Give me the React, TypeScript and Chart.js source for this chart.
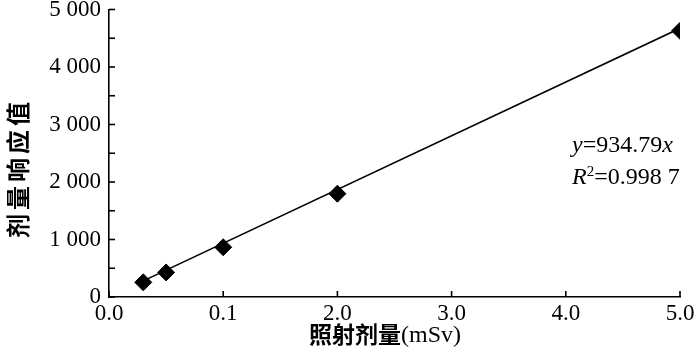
import React, { useEffect, useRef } from "react";
import { Chart, registerables } from "chart.js";

Chart.register(...registerables);

// Measured dose (mSv) and response values
const doseValues = [0.3, 0.5, 1.0, 2.0, 5.0];
const responseValues = [255, 427, 865, 1797, 4629];

// Fitted line y = 934.79x, endpoints
const fitX = [0.3, 5.0];
const fitY = [280, 4674];

// Tick positions and labels as printed on the original figure
const xTickValues = [0, 1, 2, 3, 4, 5];
const xTickLabels = ["0.0", "0.1", "2.0", "3.0", "4.0", "5.0"];
const yTickValues = [0, 500, 1000, 1500, 2000, 2500, 3000, 3500, 4000, 4500, 5000];
const yTickLabels = ["0", "1 000", "2 000", "3 000", "4 000", "5 000"];

const xTitleCjk = "照射剂量";
const xTitleUnit = "(mSv)";
const yTitle = "剂量响应值";
const eqLine1 = ["y", "=934.79", "x"];
const eqLine2 = ["R", "2", "=0.998 7"];

const SERIF = '"Liberation Serif", "Times New Roman", serif';
const SANS_CJK = '"Noto Sans CJK SC", sans-serif';

const innerTicks = {
  id: "innerTicks",
  afterDraw(chart: any) {
    const { ctx, chartArea, scales } = chart;
    const xs = scales.x;
    const ys = scales.y;
    ctx.save();
    ctx.strokeStyle = "#000";
    ctx.lineWidth = 1.6;
    yTickValues.forEach((v) => {
      const py = ys.getPixelForValue(v);
      ctx.beginPath();
      ctx.moveTo(chartArea.left, py);
      ctx.lineTo(chartArea.left + 6, py);
      ctx.stroke();
    });
    xTickValues.forEach((v) => {
      const px = xs.getPixelForValue(v);
      ctx.beginPath();
      ctx.moveTo(px, chartArea.bottom);
      ctx.lineTo(px, chartArea.bottom - 6);
      ctx.stroke();
    });
    ctx.restore();
  },
};

const titles = {
  id: "titles",
  afterDraw(chart: any) {
    const { ctx } = chart;
    ctx.save();
    ctx.fillStyle = "#000";
    ctx.textBaseline = "middle";
    // x title: CJK part in bold sans, unit in serif
    ctx.font = `bold 23px ${SANS_CJK}`;
    const w1 = ctx.measureText(xTitleCjk).width;
    ctx.font = `24px ${SERIF}`;
    const w2 = ctx.measureText(xTitleUnit).width;
    const x0 = 385 - (w1 + w2) / 2;
    ctx.textAlign = "left";
    ctx.font = `bold 23px ${SANS_CJK}`;
    ctx.fillText(xTitleCjk, x0, 334);
    ctx.font = `24px ${SERIF}`;
    ctx.fillText(xTitleUnit, x0 + w1, 336);

    // y title
    ctx.translate(18, 170);
    ctx.rotate(-Math.PI / 2);
    ctx.font = `bold 24px ${SANS_CJK}`;
    const chars = Array.from(yTitle);
    const step = 28;
    const start = -((chars.length - 1) * step) / 2;
    ctx.textAlign = "center";
    chars.forEach((c, i) => ctx.fillText(c, start + i * step, 0));
    ctx.restore();

    // equation annotation
    ctx.save();
    ctx.fillStyle = "#000";
    ctx.textAlign = "left";
    ctx.textBaseline = "alphabetic";
    let x = 572;
    let y = 152;
    ctx.font = `italic 24px ${SERIF}`;
    ctx.fillText(eqLine1[0], x, y);
    x += ctx.measureText(eqLine1[0]).width;
    ctx.font = `24px ${SERIF}`;
    ctx.fillText(eqLine1[1], x, y);
    x += ctx.measureText(eqLine1[1]).width;
    ctx.font = `italic 24px ${SERIF}`;
    ctx.fillText(eqLine1[2], x, y);

    x = 572;
    y = 184;
    ctx.font = `italic 24px ${SERIF}`;
    ctx.fillText(eqLine2[0], x, y);
    x += ctx.measureText(eqLine2[0]).width;
    ctx.font = `15px ${SERIF}`;
    ctx.fillText(eqLine2[1], x, y - 8);
    x += ctx.measureText(eqLine2[1]).width;
    ctx.font = `24px ${SERIF}`;
    ctx.fillText(eqLine2[2], x, y);
    ctx.restore();
  },
};

export default function App() {
  const ref = useRef<HTMLCanvasElement | null>(null);

  useEffect(() => {
    document.body.style.margin = "0";
    const canvas = ref.current;
    if (!canvas) return;
    const chart = new Chart(canvas, {
      type: "scatter",
      data: {
        datasets: [
          {
            type: "line",
            data: fitX.map((x, i) => ({ x, y: fitY[i] })),
            borderColor: "#000",
            borderWidth: 1.6,
            pointRadius: 0,
            fill: false,
            order: 2,
          } as any,
          {
            data: doseValues.map((x, i) => ({ x, y: responseValues[i] })),
            pointStyle: "rectRot",
            pointRadius: 8.5,
            backgroundColor: "#000",
            borderColor: "#000",
            borderWidth: 1,
            order: 1,
          },
        ],
      },
      options: {
        responsive: false,
        animation: false,
        devicePixelRatio: 1,
        layout: { padding: { left: 0, top: 7, right: 20, bottom: 0 } },
        plugins: {
          legend: { display: false },
          tooltip: { enabled: false },
        },
        scales: {
          x: {
            type: "linear",
            min: 0,
            max: 5,
            grid: { display: false, drawTicks: false },
            border: { display: true, color: "#000", width: 1.6 },
            ticks: {
              stepSize: 1,
              autoSkip: false,
              maxRotation: 0,
              padding: 3,
              color: "#000",
              font: { family: SERIF, size: 23 },
              callback: (v: any) => {
                const i = xTickValues.indexOf(Math.round(Number(v)));
                return i >= 0 ? xTickLabels[i] : "";
              },
            },
            afterFit: (s: any) => {
              s.height = 61;
              s.paddingLeft = 0;
              s.paddingRight = 0;
            },
          },
          y: {
            type: "linear",
            min: 0,
            max: 5000,
            grid: { display: false, drawTicks: false },
            border: { display: true, color: "#000", width: 1.6 },
            ticks: {
              stepSize: 1000,
              autoSkip: false,
              padding: 8,
              color: "#000",
              font: { family: SERIF, size: 23 },
              callback: (v: any) => {
                const n = Number(v);
                return yTickLabels[Math.round(n / 1000)] ?? "";
              },
            },
            afterFit: (s: any) => {
              s.width = 109;
              s.paddingTop = 0;
              s.paddingBottom = 0;
            },
          },
        },
      },
      plugins: [innerTicks, titles],
    });
    return () => chart.destroy();
  }, []);

  return (
    <canvas ref={ref} width={700} height={358} style={{ display: "block", width: 700, height: 358 }} />
  );
}
